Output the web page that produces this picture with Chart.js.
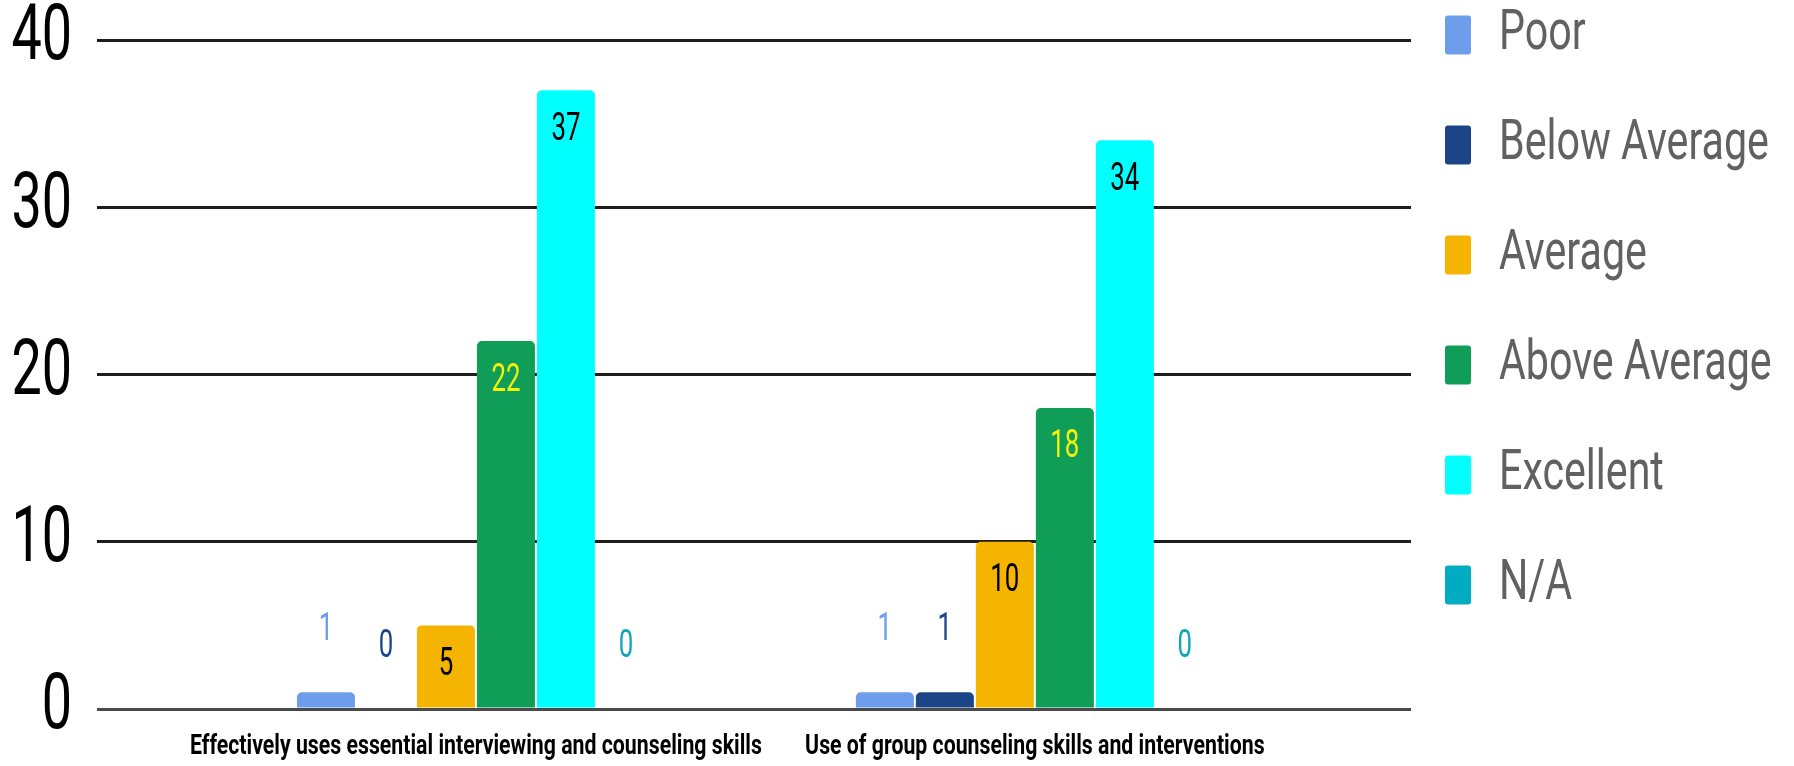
<!DOCTYPE html>
<html>
<head>
<meta charset="utf-8">
<script src="https://cdn.jsdelivr.net/npm/chart.js@4.4.0/dist/chart.umd.min.js"></script>
<style>
  html, body { margin: 0; padding: 0; background: #ffffff; overflow: hidden; }
  #wrap { width: 1794px; height: 766px; position: relative; }
</style>
</head>
<body>
<div id="wrap"><canvas id="c" width="1794" height="766"></canvas></div>
<script>
// ---- data ----
const categories = [
  "Effectively uses essential interviewing and counseling skills",
  "Use of group counseling skills and interventions"
];
const seriesNames = ["Poor", "Below Average", "Average", "Above Average", "Excellent", "N/A"];
const poor          = [1, 1];
const belowAverage  = [0, 1];
const average       = [5, 10];
const aboveAverage  = [22, 18];
const excellent     = [37, 34];
const notApplicable = [0, 0];
const yTicks = [0, 10, 20, 30, 40];

// ---- styles ----
const seriesValues = [poor, belowAverage, average, aboveAverage, excellent, notApplicable];
const seriesColors = ["#6d9eeb", "#1c4587", "#f4b400", "#0f9d58", "#00ffff", "#00acc1"];
const labelColors  = ["#6d9eeb", "#1c4587", "#000000", "#f2f20a", "#000000", "#12a5b9"];
const FONT = "Roboto, 'Noto Sans', sans-serif";

// horizontal text compression per font size (the reference uses condensed lettering)
const SQUEEZE = { 77: 0.70, 38: 0.68, 28: 0.76, 56: 0.735 };

const canvas = document.getElementById('c');
const ctx2d = canvas.getContext('2d');
const origFillText = ctx2d.fillText.bind(ctx2d);
ctx2d.fillText = function (text, x, y, maxWidth) {
  const m = /(\d+(?:\.\d+)?)px/.exec(this.font);
  const sx = m ? (SQUEEZE[Math.round(parseFloat(m[1]))] || 1) : 1;
  if (sx === 1) {
    return maxWidth === undefined ? origFillText(text, x, y) : origFillText(text, x, y, maxWidth);
  }
  this.save();
  this.translate(x, y);
  this.scale(sx, 1);
  if (maxWidth === undefined) origFillText(text, 0, 0);
  else origFillText(text, 0, 0, maxWidth / sx);
  this.restore();
};

const datasets = seriesNames.map((name, di) => ({
  label: name,
  data: seriesValues[di].map((v, i) => ({ x: i, y: v })),
  backgroundColor: seriesColors[di],
  borderWidth: 0,
  borderRadius: 5,
  borderSkipped: 'start',
  categoryPercentage: 0.644,
  barPercentage: 0.967
}));

const valueLabels = {
  id: 'valueLabels',
  afterDatasetsDraw(chart) {
    const ctx = chart.ctx;
    chart.data.datasets.forEach((ds, di) => {
      const meta = chart.getDatasetMeta(di);
      meta.data.forEach((bar, i) => {
        const v = seriesValues[di][i];
        const inside = v >= 5;
        const y = inside ? bar.y + 40 : bar.y - 62;
        ctx.save();
        ctx.font = "38px " + FONT;
        ctx.fillStyle = labelColors[di];
        ctx.textAlign = 'center';
        ctx.textBaseline = 'middle';
        ctx.fillText(String(v), bar.x, y);
        ctx.restore();
      });
    });
  }
};

const legendPlace = {
  id: 'legendPlace',
  afterLayout(chart) {
    const lg = chart.legend;
    if (!lg) return;
    const pad = lg.options.labels.padding;
    const dx = (1445 - pad) - lg.left;
    lg.left += dx; lg.right += dx;
    const dy = (7 - pad) - lg.top;
    lg.top += dy; lg.bottom += dy;
  }
};

new Chart(canvas, {
  type: 'bar',
  data: { datasets },
  plugins: [valueLabels, legendPlace],
  options: {
    responsive: false,
    animation: false,
    devicePixelRatio: 1,
    layout: { padding: 0 },
    plugins: {
      tooltip: { enabled: false },
      legend: {
        position: 'right',
        align: 'start',
        maxWidth: 383,
        labels: {
          boxWidth: 26,
          boxHeight: 39,
          padding: 54,
          useBorderRadius: true,
          borderRadius: 3,
          color: '#616161',
          font: { family: FONT, size: 56 }
        }
      }
    },
    scales: {
      x: {
        type: 'linear',
        min: -0.678,
        max: 1.673,
        offset: false,
        grid: { display: false, drawTicks: false, offset: false },
        border: { display: false },
        afterBuildTicks(scale) { scale.ticks = categories.map((_, i) => ({ value: i })); },
        afterFit(scale) { scale.height = 57; },
        ticks: {
          autoSkip: false,
          maxRotation: 0,
          padding: 21,
          color: '#000000',
          font: { family: FONT, size: 28, weight: 'bold' },
          callback: (v) => categories[v] ?? ''
        }
      },
      y: {
        min: 0,
        max: 40,
        afterBuildTicks(scale) { scale.ticks = yTicks.map(v => ({ value: v })); },
        afterFit(scale) { scale.width = 97; },
        grid: {
          color: (c) => (c.tick && c.tick.value === 0) ? '#4a4a4a' : '#1e1e1e',
          lineWidth: 3,
          drawTicks: false
        },
        border: { display: false },
        ticks: {
          padding: 25,
          color: '#000000',
          font: { family: FONT, size: 77, lineHeight: 0.39 }
        }
      }
    }
  }
});
</script>
</body>
</html>
